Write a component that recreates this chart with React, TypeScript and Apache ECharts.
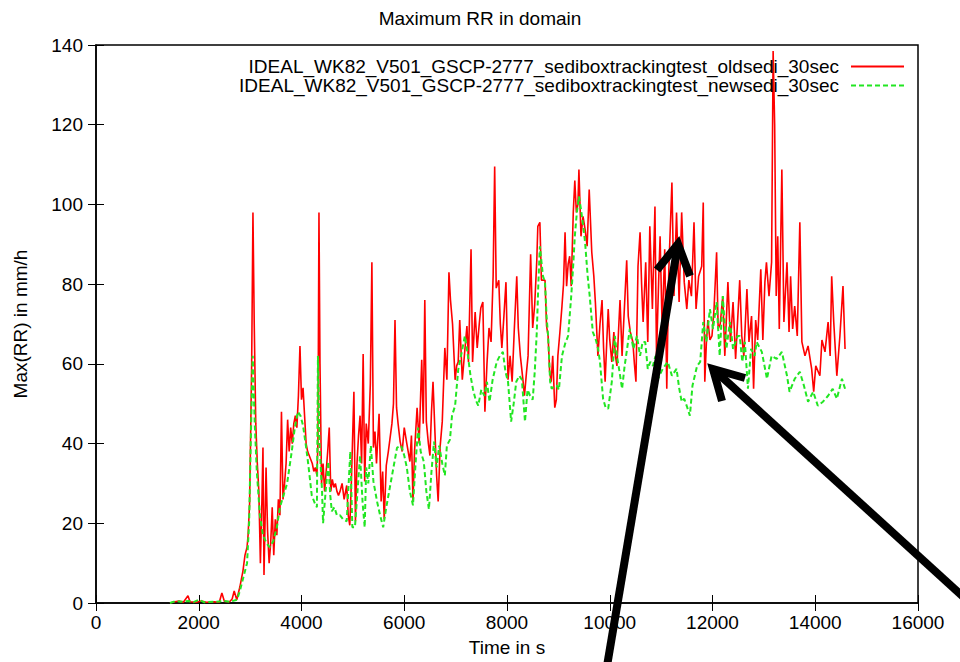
import React, { useEffect, useRef } from "react";
import * as echarts from "echarts";

const titleText = "Maximum RR in domain";
const xName = "Time in s";
const yName = "Max(RR) in mm/h";
const oldName = "IDEAL_WK82_V501_GSCP-2777_sediboxtrackingtest_oldsedi_30sec";
const newName = "IDEAL_WK82_V501_GSCP-2777_sediboxtrackingtest_newsedi_30sec";

const oldTimes = [
  1440, 1530, 1620, 1700, 1790, 1830, 1950, 2050, 2150, 2300, 2400, 2450, 2500, 2600, 2650, 2690, 2740, 2800, 2860, 2900,
  2940, 2960, 2990, 3030, 3055, 3080, 3110, 3140, 3170, 3200, 3230, 3250, 3270, 3290, 3310, 3340, 3370, 3400, 3430, 3460,
  3490, 3520, 3550, 3580, 3610, 3640, 3670, 3700, 3730, 3760, 3790, 3820, 3850, 3880, 3910, 3940, 3970, 4000, 4030, 4060,
  4090, 4120, 4150, 4180, 4210, 4240, 4270, 4300, 4320, 4340, 4360, 4390, 4420, 4450, 4480, 4510, 4540, 4570, 4600, 4630,
  4660, 4690, 4720, 4750, 4790, 4830, 4880, 4910, 4940, 4970, 5020, 5050, 5080, 5110, 5140, 5170, 5200, 5230, 5260, 5300,
  5340, 5370, 5400, 5430, 5460, 5510, 5550, 5580, 5610, 5650, 5690, 5720, 5760, 5790, 5820, 5850, 5880, 5920, 5960, 6000,
  6050, 6110, 6140, 6170, 6200, 6250, 6290, 6340, 6370, 6400, 6430, 6470, 6500, 6530, 6560, 6600, 6630, 6660, 6700, 6740,
  6790, 6830, 6870, 6900, 6940, 6990, 7020, 7050, 7080, 7100, 7130, 7170, 7220, 7250, 7300, 7330, 7380, 7420, 7460, 7490,
  7530, 7570, 7610, 7650, 7690, 7730, 7760, 7790, 7840, 7870, 7900, 7940, 7980, 8020, 8060, 8100, 8140, 8190, 8220, 8260,
  8310, 8340, 8380, 8410, 8460, 8500, 8540, 8580, 8600, 8640, 8670, 8700, 8740, 8770, 8800, 8830, 8860, 8890, 8930, 8960,
  8990, 9030, 9070, 9100, 9130, 9160, 9190, 9220, 9250, 9290, 9320, 9350, 9380, 9400, 9440, 9480, 9520, 9560, 9600, 9650,
  9690, 9720, 9770, 9810, 9850, 9880, 9910, 9940, 9970, 10000, 10040, 10080, 10110, 10140, 10170, 10200, 10240, 10270, 10300, 10330,
  10360, 10400, 10450, 10480, 10510, 10550, 10590, 10620, 10650, 10700, 10740, 10780, 10830, 10880, 10910, 10950, 10980, 11020, 11070, 11110,
  11150, 11210, 11250, 11300, 11350, 11400, 11450, 11500, 11540, 11590, 11640, 11680, 11730, 11790, 11820, 11850, 11880, 11910, 11950, 11990,
  12030, 12080, 12110, 12150, 12200, 12240, 12300, 12350, 12400, 12450, 12530, 12570, 12610, 12670, 12710, 12760, 12800, 12840, 12880, 12940,
  12980, 13020, 13050, 13100, 13150, 13180, 13210, 13240, 13270, 13300, 13350, 13390, 13450, 13490, 13520, 13560, 13600, 13650, 13700, 13740,
  13800, 13860, 13930, 13970, 14010, 14090, 14130, 14190, 14250, 14290, 14320, 14360, 14420, 14480, 14540, 14580,
];
const oldValues = [
  0, 0.3, 0.5, 0.2, 1.8, 0.3, 0.2, 0.5, 0.2, 0.3, 0.2, 2.5, 0.4, 0.3, 1, 3, 0.8, 4, 8, 12,
  14, 17, 25, 60, 98, 70, 45, 35, 28, 10, 26, 39, 7, 20, 34, 18, 10, 15, 24, 12,
  21, 17, 26, 22, 48, 26, 30, 35, 46, 38, 44, 40, 45, 47, 44, 52, 64.5, 51, 54, 47,
  40, 38, 37, 36, 35, 33, 34, 32, 40, 98, 60, 30, 35, 28, 33, 38, 44, 28, 31, 29,
  30, 28, 27, 28, 30, 26, 29.5, 22, 19.5, 30, 53, 20.5, 35, 42, 47, 35, 62.5, 30.5, 45, 40,
  55, 85.5, 39, 43, 35, 47.5, 25.5, 33, 21, 34.5, 38, 41, 45, 50, 71, 49, 45, 40.5, 38, 44,
  40, 35.5, 42, 25.5, 38, 49, 40, 61, 45, 76, 45.5, 40, 37, 48, 55.5, 42, 32, 25.5, 39.5, 45.5,
  64, 56, 83, 76, 70, 56, 59.5, 60.5, 71, 65, 56, 62, 69.5, 60.5, 88.75, 60.5, 73, 64, 70, 74,
  75.5, 48, 60, 69, 65.5, 82, 109.5, 79, 81, 70, 64, 72, 80.5, 56, 62, 55.5, 68, 82, 69, 62,
  56, 52, 58, 62, 87.5, 69, 75, 86, 94.5, 95.5, 81, 81, 81, 69.5, 67, 58, 55.5, 62, 49, 51,
  62, 68, 74.5, 80, 93, 79.5, 85, 87, 79.5, 98, 106, 98, 100, 108.75, 92, 97, 93.75, 89.5, 103.75, 88,
  82, 75.5, 62, 70, 76, 64, 55.5, 65, 73.75, 66, 60.5, 68, 62, 59.5, 68, 76, 62, 70, 78, 86,
  72, 68, 65.5, 60, 55.5, 84.5, 93, 80, 70.5, 85.5, 65.5, 94.5, 73.75, 99.5, 62, 80, 92, 68.75, 88.75, 53.75,
  83.75, 105.5, 77, 98, 75.5, 98, 80.5, 73.75, 81, 77, 95.5, 73.75, 82, 84.5, 100.5, 55.5, 65, 71, 66, 67,
  73.75, 88, 68.75, 70, 77, 62, 80.5, 65.5, 75.5, 61.25, 81, 67, 62, 78.75, 65.5, 72, 53.75, 71, 66, 83.75,
  66, 80.5, 85.5, 77, 85.5, 138.5, 120, 77, 92, 68.75, 108.75, 70.5, 85.5, 68, 82, 68.75, 74.5, 67, 95.5, 65.5,
  62, 64.5, 58.75, 53, 59.5, 57, 66, 63, 70.5, 62, 82, 70.5, 57, 67, 79.5, 63.75,
];

const newTimes = [
  1440, 1550, 1650, 1800, 1900, 2000, 2100, 2300, 2500, 2600, 2745, 2800, 2860, 2940, 2980, 3020, 3050, 3090, 3130, 3190,
  3250, 3320, 3380, 3450, 3520, 3580, 3650, 3720, 3810, 3870, 3930, 3980, 4030, 4080, 4130, 4200, 4260, 4300, 4320, 4350,
  4400, 4420, 4470, 4520, 4560, 4590, 4640, 4690, 4750, 4810, 4880, 4950, 4990, 5040, 5090, 5140, 5190, 5230, 5260, 5300,
  5350, 5400, 5470, 5530, 5590, 5650, 5720, 5790, 5860, 5940, 6000, 6050, 6110, 6170, 6220, 6270, 6320, 6380, 6430, 6480,
  6530, 6580, 6630, 6680, 6740, 6790, 6830, 6890, 6930, 6990, 7050, 7120, 7180, 7240, 7290, 7340, 7390, 7440, 7500, 7560,
  7610, 7660, 7720, 7800, 7860, 7920, 7970, 8020, 8080, 8130, 8180, 8240, 8290, 8350, 8400, 8450, 8500, 8540, 8580, 8610,
  8640, 8700, 8740, 8770, 8800, 8840, 8870, 8930, 8970, 9010, 9070, 9130, 9190, 9250, 9290, 9320, 9360, 9400, 9440, 9480,
  9520, 9570, 9610, 9670, 9730, 9770, 9810, 9870, 9920, 9970, 10040, 10100, 10140, 10190, 10240, 10290, 10340, 10390, 10460, 10530,
  10590, 10640, 10690, 10740, 10790, 10840, 10890, 10940, 11030, 11130, 11210, 11300, 11350, 11400, 11450, 11510, 11560, 11610, 11700, 11760,
  11820, 11880, 11950, 12010, 12080, 12140, 12200, 12270, 12340, 12400, 12490, 12530, 12580, 12630, 12690, 12750, 12820, 12860, 12960, 13060,
  13150, 13250, 13350, 13450, 13500, 13600, 13700, 13780, 13860, 13960, 14050, 14150, 14250, 14340, 14420, 14520, 14580,
];
const newValues = [
  0, 0.5, 0.3, 0.5, 0.2, 0.8, 0.2, 0.3, 0.5, 0.3, 0.8, 3, 6, 10, 20, 45, 62, 45, 33, 22,
  17, 15, 14, 15.5, 19, 24, 27, 30, 38, 44, 48, 47, 44.5, 40, 35, 27, 25, 24, 62, 40,
  28, 20, 28, 35.5, 27, 23, 24, 22, 22, 21, 20.5, 38, 19, 19, 28, 37, 25, 19, 34, 30,
  39.5, 30.5, 25.5, 22, 19, 24, 29, 34, 39, 39.5, 37, 34, 28, 24.5, 35, 44, 38, 35.5, 28, 23.5,
  33, 40.5, 34, 39.5, 35, 32, 39.5, 41, 47, 49.5, 58.5, 63, 67, 62, 57, 53.5, 51, 49.5, 53.5, 52,
  55.5, 50.5, 56, 60.5, 62, 63, 58, 55.5, 45.5, 50, 55.5, 57, 56, 45.5, 53.5, 52, 51, 58, 68, 80,
  89.5, 82, 80.5, 72, 67, 55.5, 53.75, 54.5, 54.5, 53.5, 62, 65, 67, 77, 85, 92, 98, 102, 98.75, 95,
  90.5, 82, 77, 68, 66, 64, 60.5, 51.25, 49, 48.75, 55.5, 67, 62, 58, 53.75, 59.5, 64, 68.75, 63.75, 67,
  62, 65.5, 65.5, 58.75, 60.5, 59.5, 62, 56.25, 58.75, 60.5, 57, 58.75, 54, 50.5, 51.25, 49, 47, 54.5, 59.5, 60.5,
  70.5, 65.5, 73.75, 68.75, 75.5, 62, 77, 63.75, 70.5, 63.75, 67, 67, 60.5, 65.5, 53.75, 63.75, 62, 65.5, 63, 56.25,
  62, 61.25, 63, 57, 53, 56.25, 58, 54.5, 50.5, 53, 49.5, 50.5, 52, 53.75, 51.25, 56.25, 53.75,
];

const xTicks = { min: 0, max: 16000, interval: 2000 };
const yTicks = { min: 0, max: 140, interval: 20 };

const FONT = "Liberation Sans, Arial, Helvetica, sans-serif";

export default function App() {
  const ref = useRef<HTMLDivElement>(null);
  useEffect(() => {
    if (!ref.current) return;
    const chart = echarts.init(ref.current, null, { renderer: "svg" });
    const oldData = oldTimes.map((t, i) => [t, oldValues[i]]);
    const newData = newTimes.map((t, i) => [t, newValues[i]]);
    const tickStyle = { show: true, inside: true, length: 8, lineStyle: { color: "#000", width: 1 } };
    const plain = (v: number) => String(v);
    const arrow = (pts: number[][]) => ({
      type: "polyline",
      z: 100,
      shape: { points: pts },
      style: { stroke: "#000", lineWidth: 8, fill: null, lineJoin: "miter", lineCap: "butt" },
    });
    const option: any = {
      animation: false,
      backgroundColor: "#fff",
      title: {
        text: titleText,
        left: "center",
        top: 4,
        textStyle: { fontFamily: FONT, fontSize: 19, fontWeight: "normal", color: "#000" },
      },
      legend: {
        orient: "vertical",
        align: "right",
        right: 50,
        top: 52,
        itemWidth: 53,
        itemHeight: 10,
        itemGap: 0,
        itemStyle: { opacity: 0 },
        textStyle: { fontFamily: FONT, fontSize: 19, color: "#000", lineHeight: 18, padding: [0, 7, 0, 0] },
        data: [oldName, newName],
      },
      grid: { left: 96, right: 42, top: 45, bottom: 57, show: true, borderColor: "#000", borderWidth: 1.5 },
      xAxis: [
        {
          type: "value",
          ...xTicks,
          position: "bottom",
          name: xName,
          nameLocation: "middle",
          nameGap: 35,
          nameTextStyle: { fontFamily: FONT, fontSize: 19, color: "#000" },
          axisLine: { show: true, lineStyle: { color: "#000", width: 1.5 } },
          axisTick: tickStyle,
          axisLabel: { fontFamily: FONT, fontSize: 19, color: "#000", margin: 10, formatter: plain },
          splitLine: { show: false },
        },
        {
          type: "value",
          ...xTicks,
          position: "top",
          axisLine: { show: false },
          axisTick: tickStyle,
          axisLabel: { show: false },
          splitLine: { show: false },
        },
      ],
      yAxis: [
        {
          type: "value",
          ...yTicks,
          position: "left",
          name: yName,
          nameLocation: "middle",
          nameGap: 66,
          nameTextStyle: { fontFamily: FONT, fontSize: 19, color: "#000" },
          axisLine: { show: true, lineStyle: { color: "#000", width: 1.5 } },
          axisTick: tickStyle,
          axisLabel: { fontFamily: FONT, fontSize: 19, color: "#000", margin: 13, formatter: plain },
          splitLine: { show: false },
        },
        {
          type: "value",
          ...yTicks,
          position: "right",
          axisLine: { show: false },
          axisTick: tickStyle,
          axisLabel: { show: false },
          splitLine: { show: false },
        },
      ],
      series: [
        {
          name: oldName,
          type: "line",
          data: oldData,
          symbol: "none",
          lineStyle: { color: "#ff0000", width: 1.6 },
          itemStyle: { color: "#ff0000" },
          z: 3,
        },
        {
          name: newName,
          type: "line",
          data: newData,
          symbol: "none",
          lineStyle: { color: "#22e622", width: 2, type: [5, 3] },
          itemStyle: { color: "#22e622" },
          z: 4,
        },
      ],
      graphic: [
        arrow([[606, 672], [678, 244]]),
        arrow([[657, 270], [678, 244], [690, 276]]),
        arrow([[980, 612], [713, 369]]),
        arrow([[722, 401], [713, 369], [745, 378]]),
      ],
    };
    chart.setOption(option);
    return () => chart.dispose();
  }, []);
  return <div ref={ref} style={{ position: "fixed", left: 0, top: 0, width: 960, height: 662, background: "#fff" }} />;
}
